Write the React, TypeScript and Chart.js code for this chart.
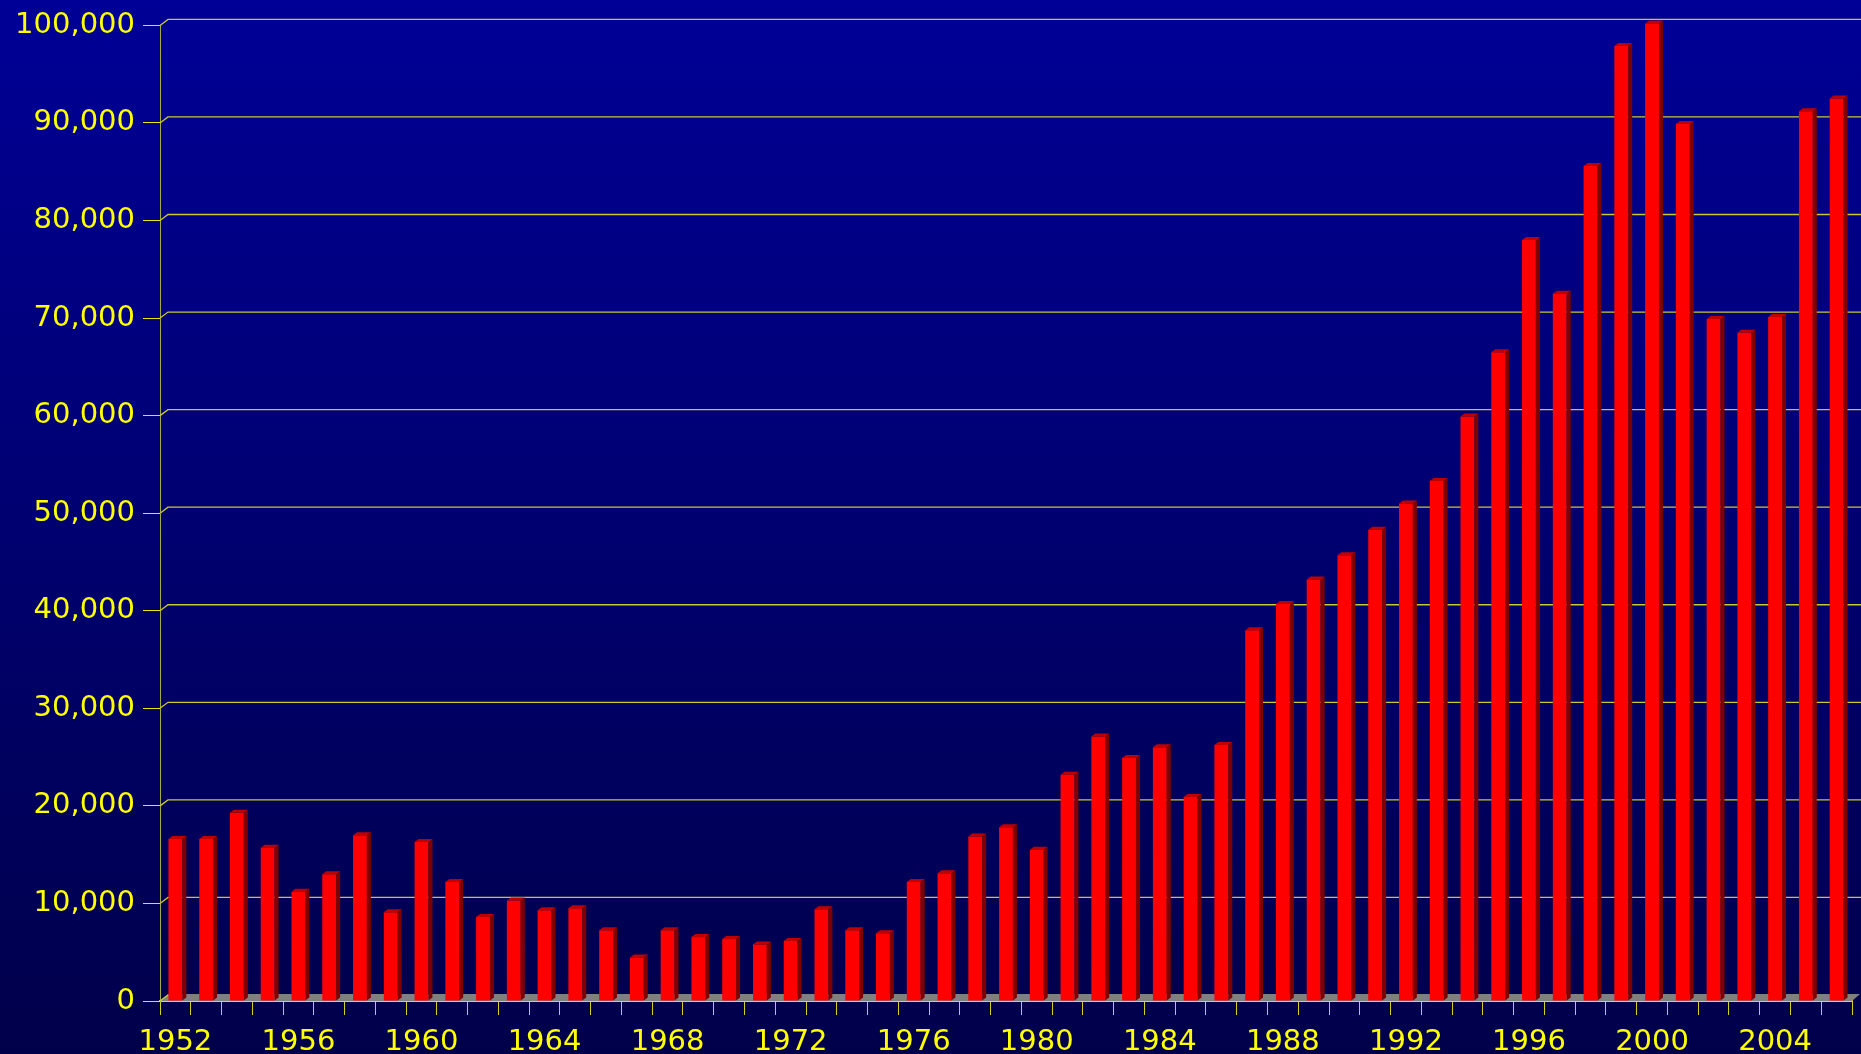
import React, { useEffect, useRef } from 'react';
import { Chart, registerables } from 'chart.js';

Chart.register(...registerables);

const years = [
  '1952', '1953', '1954', '1955', '1956', '1957', '1958', '1959', '1960', '1961',
  '1962', '1963', '1964', '1965', '1966', '1967', '1968', '1969', '1970', '1971',
  '1972', '1973', '1974', '1975', '1976', '1977', '1978', '1979', '1980', '1981',
  '1982', '1983', '1984', '1985', '1986', '1987', '1988', '1989', '1990', '1991',
  '1992', '1993', '1994', '1995', '1996', '1997', '1998', '1999', '2000', '2001',
  '2002', '2003', '2004', '2005', '2006',
];

const values = [
  16600, 16600, 19300, 15700, 11200, 13000, 17000, 9100, 16300, 12200,
  8600, 10300, 9300, 9500, 7250, 4450, 7250, 6550, 6350, 5800,
  6150, 9400, 7250, 6950, 12200, 13100, 16850, 17800, 15500, 23200,
  27100, 24900, 26000, 20900, 26250, 38000, 40700, 43200, 45700, 48300,
  51000, 53300, 59900, 66500, 78000, 72500, 85600, 97900, 100200, 89900,
  69900, 68500, 70100, 91200, 92500,
];

const labeledYears = [
  '1952', '1956', '1960', '1964', '1968', '1972', '1976', '1980', '1984',
  '1988', '1992', '1996', '2000', '2004',
];

const yMin = 0;
const yMax = 100000;
const yStep = 10000;

const BAR_DX = 4;
const BAR_DY = 3;
const WALL_DX = 8;
const WALL_DY = 6;

const background = {
  id: 'bg',
  beforeDraw(chart: any) {
    const { ctx, width, height } = chart;
    const g = ctx.createLinearGradient(0, 0, 0, height);
    g.addColorStop(0, '#000096');
    g.addColorStop(1, '#00004a');
    ctx.save();
    ctx.fillStyle = g;
    ctx.fillRect(0, 0, width, height);
    ctx.restore();
  },
};

const wall = {
  id: 'wall',
  beforeDatasetsDraw(chart: any) {
    const { ctx, chartArea } = chart;
    const ys = chart.scales.y;
    const { left, right, bottom } = chartArea;
    ctx.save();
    // floor
    ctx.fillStyle = '#808080';
    ctx.beginPath();
    ctx.moveTo(left, bottom);
    ctx.lineTo(left + WALL_DX, bottom - WALL_DY - 1);
    ctx.lineTo(right + WALL_DX, bottom - WALL_DY - 1);
    ctx.lineTo(right, bottom);
    ctx.closePath();
    ctx.fill();
    // grid lines on back wall
    ctx.strokeStyle = '#c8c830';
    ctx.lineWidth = 1.3;
    ys.ticks.forEach((t: any) => {
      const y = ys.getPixelForValue(t.value);
      ctx.beginPath();
      ctx.moveTo(left, y);
      ctx.lineTo(left + WALL_DX, y - WALL_DY);
      if (t.value !== 0) ctx.lineTo(right + WALL_DX + 2, y - WALL_DY);
      ctx.stroke();
    });
    ctx.restore();
  },
};

const bars3d = {
  id: 'bars3d',
  afterDatasetsDraw(chart: any) {
    const { ctx } = chart;
    const meta = chart.getDatasetMeta(0);
    ctx.save();
    meta.data.forEach((bar: any) => {
      const { x, y, base, width } = bar.getProps(['x', 'y', 'base', 'width'], true);
      const l = x - width / 2;
      const r = x + width / 2;
      ctx.fillStyle = '#800000';
      ctx.beginPath();
      ctx.moveTo(r, y);
      ctx.lineTo(r + BAR_DX, y - BAR_DY);
      ctx.lineTo(r + BAR_DX, base - BAR_DY);
      ctx.lineTo(r, base);
      ctx.closePath();
      ctx.fill();
      ctx.fillStyle = '#c00000';
      ctx.beginPath();
      ctx.moveTo(l, y);
      ctx.lineTo(l + BAR_DX, y - BAR_DY);
      ctx.lineTo(r + BAR_DX, y - BAR_DY);
      ctx.lineTo(r, y);
      ctx.closePath();
      ctx.fill();
    });
    ctx.restore();
  },
};

export default function App() {
  const ref = useRef<HTMLCanvasElement | null>(null);

  useEffect(() => {
    document.body.style.margin = '0';
    document.body.style.overflow = 'hidden';
    const canvas = ref.current;
    if (!canvas) return;
    const chart = new Chart(canvas, {
      type: 'bar',
      data: {
        labels: years,
        datasets: [
          {
            data: values,
            backgroundColor: '#ff0000',
            borderWidth: 0,
            barPercentage: 0.45,
            categoryPercentage: 1,
            clip: false as any,
          },
        ],
      },
      options: {
        responsive: false,
        animation: false,
        devicePixelRatio: 1,
        layout: { padding: { left: 0, top: 22, right: 9, bottom: 0 } },
        plugins: {
          legend: { display: false },
          tooltip: { enabled: false },
        },
        scales: {
          x: {
            offset: true,
            grid: {
              offset: true,
              drawOnChartArea: false,
              drawTicks: true,
              tickLength: 14,
              color: '#d0d020',
              lineWidth: 1,
            },
            border: { display: true, color: '#e0e000', width: 2 },
            ticks: {
              autoSkip: false,
              maxRotation: 0,
              minRotation: 0,
              padding: 10,
              color: '#ffff00',
              font: { family: '"DejaVu Sans", sans-serif', size: 29 },
              callback: (_v: any, i: number) =>
                labeledYears.includes(years[i]) ? years[i] : '',
            },
            afterFit: (s: any) => {
              s.height = 53;
            },
          },
          y: {
            min: yMin,
            max: yMax,
            grid: {
              drawOnChartArea: false,
              drawTicks: true,
              tickLength: 17,
              color: '#e8e800',
              lineWidth: 1,
            },
            border: { display: true, color: '#a8a840', width: 1 },
            ticks: {
              stepSize: yStep,
              padding: 8,
              color: '#ffff00',
              font: { family: '"DejaVu Sans", sans-serif', size: 29 },
              callback: (v: any) => Number(v).toLocaleString('en-US'),
            },
            afterFit: (s: any) => {
              s.width = 160;
            },
          },
        },
      },
      plugins: [background, wall, bars3d],
    });
    return () => chart.destroy();
  }, []);

  return (
    <div style={{ position: 'fixed', left: 0, top: 0, width: 1861, height: 1054 }}>
      <canvas ref={ref} width={1861} height={1054} style={{ display: 'block' }} />
    </div>
  );
}
